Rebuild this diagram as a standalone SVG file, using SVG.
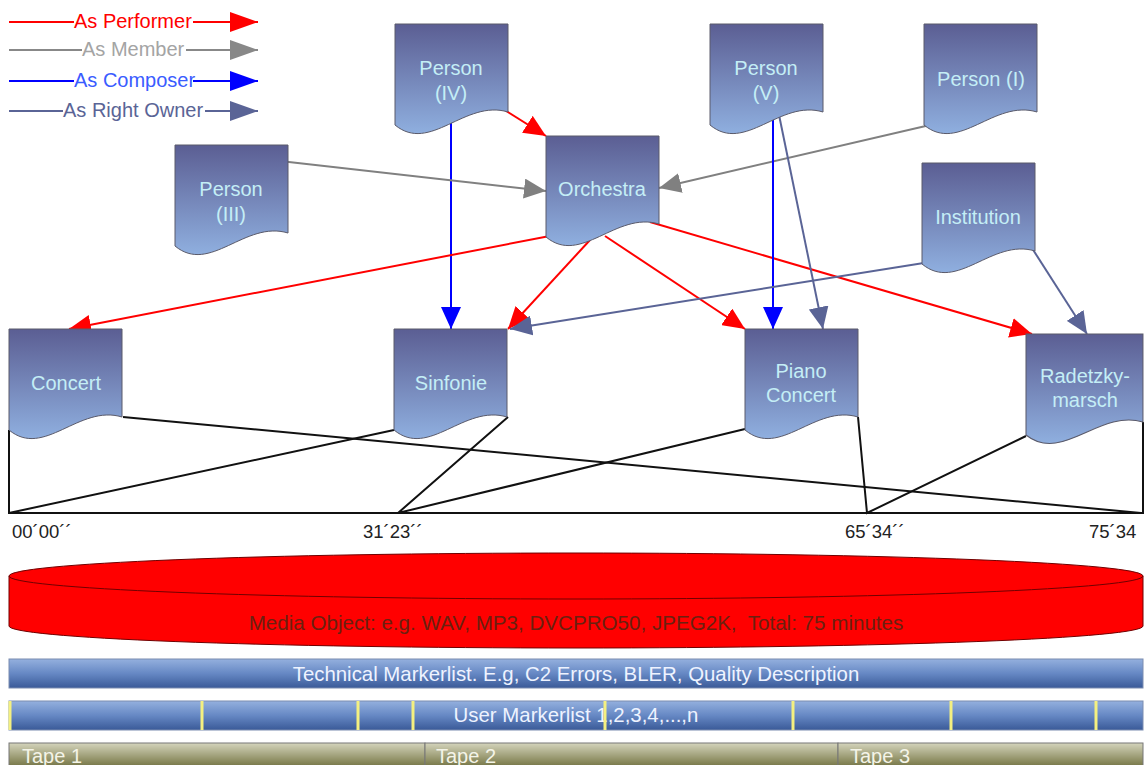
<svg xmlns="http://www.w3.org/2000/svg" xmlns:xlink="http://www.w3.org/1999/xlink" width="1144" height="765" viewBox="0 0 1144 765">
<defs>
<linearGradient id="gDoc" x1="0" y1="0" x2="0" y2="1">
<stop offset="0" stop-color="#5b5e93"/>
<stop offset="1" stop-color="#8fafdf"/>
</linearGradient>
<linearGradient id="gBar" x1="0" y1="0" x2="0" y2="1">
<stop offset="0" stop-color="#94b0de"/>
<stop offset="0.5" stop-color="#6688c4"/>
<stop offset="1" stop-color="#3a5a98"/>
</linearGradient>
<linearGradient id="gTape" x1="0" y1="0" x2="0" y2="1">
<stop offset="0" stop-color="#d4d4bc"/>
<stop offset="0.6" stop-color="#8c8c60"/>
<stop offset="1" stop-color="#5a5a2a"/>
</linearGradient>
<path id="doc" d="M0,0 H113 V88 C70,75 35,130 0,101 Z"/>
<marker id="aRed" markerUnits="userSpaceOnUse" markerWidth="22" markerHeight="20" refX="22" refY="10" orient="auto"><path d="M0,0 L22,10 L0,20 Z" fill="#ff0000"/></marker>
<marker id="aGray" markerUnits="userSpaceOnUse" markerWidth="22" markerHeight="20" refX="22" refY="10" orient="auto"><path d="M0,0 L22,10 L0,20 Z" fill="#808080"/></marker>
<marker id="aBlue" markerUnits="userSpaceOnUse" markerWidth="22" markerHeight="20" refX="22" refY="10" orient="auto"><path d="M0,0 L22,10 L0,20 Z" fill="#0000ff"/></marker>
<marker id="aSlate" markerUnits="userSpaceOnUse" markerWidth="22" markerHeight="20" refX="22" refY="10" orient="auto"><path d="M0,0 L22,10 L0,20 Z" fill="#5a6496"/></marker>
<marker id="lRed" markerUnits="userSpaceOnUse" markerWidth="28" markerHeight="20" refX="28" refY="10" orient="auto"><path d="M0,0 L28,10 L0,20 Z" fill="#ff0000"/></marker>
<marker id="lGray" markerUnits="userSpaceOnUse" markerWidth="28" markerHeight="20" refX="28" refY="10" orient="auto"><path d="M0,0 L28,10 L0,20 Z" fill="#888888"/></marker>
<marker id="lBlue" markerUnits="userSpaceOnUse" markerWidth="28" markerHeight="20" refX="28" refY="10" orient="auto"><path d="M0,0 L28,10 L0,20 Z" fill="#0000ff"/></marker>
<marker id="lSlate" markerUnits="userSpaceOnUse" markerWidth="28" markerHeight="20" refX="28" refY="10" orient="auto"><path d="M0,0 L28,10 L0,20 Z" fill="#5a6496"/></marker>
</defs>
<style>
text { font-family: "Liberation Sans", Arial, sans-serif; }
.doc { fill: url(#gDoc); stroke: #5a5a6a; stroke-width: 1; }
.lbl { font-size: 20px; fill: #c4eef6; text-anchor: middle; }
.red { stroke: #ff0000; stroke-width: 2; fill: none; marker-end: url(#aRed); }
.gray { stroke: #808080; stroke-width: 2; fill: none; marker-end: url(#aGray); }
.blue { stroke: #0000ff; stroke-width: 2; fill: none; marker-end: url(#aBlue); }
.slate { stroke: #5a6496; stroke-width: 2; fill: none; marker-end: url(#aSlate); }
.blk { stroke: #111; stroke-width: 2; fill: none; }
.time { font-size: 18.5px; fill: #222; }
.leg { font-size: 20px; }
.bar { fill: url(#gBar); stroke: #7a8cb0; stroke-width: 1; }
.tape { fill: url(#gTape); stroke: #777; stroke-width: 1; }
.barTxt { font-size: 20.4px; fill: #eef3ff; text-anchor: middle; }
.tapeTxt { font-size: 20px; fill: #f4f4e8; }
.mark { stroke: #f4f080; stroke-width: 3; }
</style>

<g id="legend">
<line x1="9" y1="22" x2="74" y2="22" stroke="#ff0000" stroke-width="2"/>
<text class="leg" x="74" y="28" fill="#ff0000">As Performer</text>
<line x1="193" y1="22" x2="258" y2="22" stroke="#ff0000" stroke-width="2" marker-end="url(#lRed)"/>
<line x1="9" y1="50" x2="82" y2="50" stroke="#888888" stroke-width="2"/>
<text class="leg" x="82" y="56" fill="#a4a4a4">As Member</text>
<line x1="186" y1="50" x2="258" y2="50" stroke="#888888" stroke-width="2" marker-end="url(#lGray)"/>
<line x1="9" y1="81" x2="74" y2="81" stroke="#0000ff" stroke-width="2"/>
<text class="leg" x="74" y="87" fill="#3a5cff">As Composer</text>
<line x1="193" y1="81" x2="258" y2="81" stroke="#0000ff" stroke-width="2" marker-end="url(#lBlue)"/>
<line x1="9" y1="111" x2="63" y2="111" stroke="#5a6496" stroke-width="2"/>
<text class="leg" x="63" y="117" fill="#5a6496">As Right Owner</text>
<line x1="205" y1="111" x2="258" y2="111" stroke="#5a6496" stroke-width="2" marker-end="url(#lSlate)"/>
</g>

<g id="connectors">
<path class="red" d="M495,104 L546,136"/>
<path class="blue" d="M451,110 L451,329"/>
<path class="gray" d="M280,161 L546,191"/>
<path class="gray" d="M930,125 L659,188"/>
<path class="red" d="M555,235 L69,329"/>
<path class="red" d="M590,240 L508,329"/>
<path class="red" d="M605,236 L745,329"/>
<path class="red" d="M650,222 L1032,334"/>
<path class="blue" d="M773,110 L773,329"/>
<path class="slate" d="M778,110 L823,329"/>
<path class="slate" d="M930,262 L510,329"/>
<path class="slate" d="M1030,245 L1087,334"/>
<path class="blk" d="M9,430 V513 H1143 V422"/>
<path class="blk" d="M123,417 L1141,513"/>
<path class="blk" d="M9,513 L394,430"/>
<path class="blk" d="M508,417 L398,513 L745,429"/>
<path class="blk" d="M858,417 L867,513 L1026,436"/>
</g>

<g id="person-iv"><use href="#doc" class="doc" x="395" y="24"/><text class="lbl" x="451" y="75">Person</text><text class="lbl" x="451" y="100">(IV)</text></g>
<g id="person-v"><use href="#doc" class="doc" x="710" y="24"/><text class="lbl" x="766" y="75">Person</text><text class="lbl" x="766" y="100">(V)</text></g>
<g id="person-i"><use href="#doc" class="doc" x="924" y="24"/><text class="lbl" x="981" y="86">Person (I)</text></g>
<g id="person-iii"><use href="#doc" class="doc" x="175" y="145"/><text class="lbl" x="231" y="196">Person</text><text class="lbl" x="231" y="221">(III)</text></g>
<g id="orchestra"><use href="#doc" class="doc" x="546" y="136"/><text class="lbl" x="602" y="196">Orchestra</text></g>
<g id="institution"><use href="#doc" class="doc" x="922" y="163"/><text class="lbl" x="978" y="224">Institution</text></g>
<g id="concert"><use href="#doc" class="doc" x="9" y="329"/><text class="lbl" x="66" y="390">Concert</text></g>
<g id="sinfonie"><use href="#doc" class="doc" x="394" y="329"/><text class="lbl" x="451" y="390">Sinfonie</text></g>
<g id="piano-concert"><use href="#doc" class="doc" x="745" y="329"/><text class="lbl" x="801" y="378">Piano</text><text class="lbl" x="801" y="402">Concert</text></g>
<g id="radetzky"><use href="#doc" class="doc" transform="translate(1026,334) scale(1.035,1)"/><text class="lbl" x="1085" y="383">Radetzky-</text><text class="lbl" x="1085" y="407">marsch</text></g>

<g id="times">
<text class="time" x="12" y="538">00´00´´</text>
<text class="time" x="363" y="538">31´23´´</text>
<text class="time" x="845" y="538">65´34´´</text>
<text class="time" x="1089" y="538">75´34</text>
</g>

<g id="media-object">
<path d="M9,576 A567,23 0 0 1 1143,576 V626 A567,22 0 0 1 9,626 Z" fill="#ff0000" stroke="#700000" stroke-width="1"/>
<path d="M9,576 A567,23 0 0 0 1143,576" fill="none" stroke="#700000" stroke-width="1"/>
<text x="576" y="630" font-size="20.6" fill="#6a2010" text-anchor="middle" xml:space="preserve">Media Object: e.g. WAV, MP3, DVCPRO50, JPEG2K,  Total: 75 minutes</text>
</g>

<g id="technical-markerlist">
<rect class="bar" x="9" y="659" width="1134" height="29"/>
<text class="barTxt" x="576" y="681">Technical Markerlist. E.g, C2 Errors, BLER, Quality Description</text>
</g>

<g id="user-markerlist">
<rect class="bar" x="9" y="701" width="1134" height="29"/>
<line class="mark" x1="10" y1="701" x2="10" y2="730"/>
<line class="mark" x1="202" y1="701" x2="202" y2="730"/>
<line class="mark" x1="358" y1="701" x2="358" y2="730"/>
<line class="mark" x1="413" y1="701" x2="413" y2="730"/>
<text class="barTxt" x="576" y="722">User Markerlist 1,2,3,4,...,n</text>
<line class="mark" x1="605" y1="701" x2="605" y2="730" stroke-width="2"/>
<line class="mark" x1="793" y1="701" x2="793" y2="730"/>
<line class="mark" x1="951" y1="701" x2="951" y2="730"/>
<line class="mark" x1="1096" y1="701" x2="1096" y2="730"/>
</g>

<g id="tapes">
<rect class="tape" x="9" y="743" width="416" height="30"/>
<rect class="tape" x="425" y="743" width="413" height="30"/>
<rect class="tape" x="838" y="743" width="305" height="30"/>
<text class="tapeTxt" x="22" y="763">Tape 1</text>
<text class="tapeTxt" x="436" y="763">Tape 2</text>
<text class="tapeTxt" x="850" y="763">Tape 3</text>
</g>
</svg>
